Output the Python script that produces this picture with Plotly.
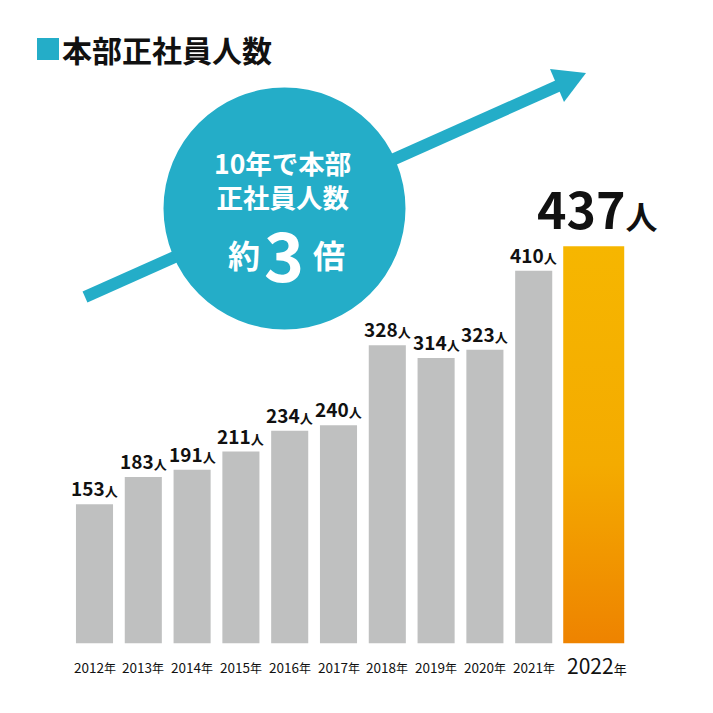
import plotly.graph_objects as go

# --- data ---
years = ["2012", "2013", "2014", "2015", "2016", "2017", "2018", "2019", "2020", "2021", "2022"]
staff = [153, 183, 191, 211, 234, 240, 328, 314, 323, 410, 437]
bar_pos = [0, 1, 2, 3, 4, 5, 6, 7, 8, 9, 10.23]
bar_width = [0.76] * 10 + [1.25]

# page has an 8px body margin, so the figure starts at (8, 8)
OFF = 8
W = H = 705
TEAL = "#24adc8"
GRAY = "#bfc0c0"
JP = "Noto Sans CJK JP"


def px(x):
    return (x - OFF) / W


def py(y):
    return 1 - (y - OFF) / H


fig = go.Figure()

# grey bars (2012-2021)
fig.add_trace(go.Bar(
    x=bar_pos[:-1], y=staff[:-1], width=bar_width[:-1],
    marker=dict(color=GRAY, line=dict(width=0)),
    hoverinfo="skip",
))

# 2022 bar with vertical gradient
x0 = bar_pos[-1] - bar_width[-1] / 2
x1 = bar_pos[-1] + bar_width[-1] / 2
fig.add_trace(go.Scatter(
    x=[x0, x1, x1, x0, x0], y=[0, 0, staff[-1], staff[-1], 0],
    mode="lines", line=dict(width=0), fill="toself",
    fillgradient=dict(type="vertical", start=0, stop=staff[-1],
                      colorscale=[[0, "#ee8300"], [0.45, "#f4ab00"], [1, "#f6b600"]]),
    hoverinfo="skip",
))

annotations = []
# value labels
for i, (p, v) in enumerate(zip(bar_pos, staff)):
    if i < len(staff) - 1:
        annotations.append(dict(
            x=p, y=v, xref="x", yref="y", yanchor="bottom", yshift=1,
            text=f"{v}<span style='font-size:13px'>人</span>",
            showarrow=False, font=dict(family=JP, size=19, color="#111", weight="bold"),
        ))
    else:
        annotations.append(dict(
            x=p, y=v, xref="x", yref="y", yanchor="bottom", yshift=1, xshift=4,
            text=f"{v}<span style='font-size:32px'>人</span>",
            showarrow=False, font=dict(family=JP, size=50, color="#111", weight="bold"),
        ))

# year labels
for i, (p, yr) in enumerate(zip(bar_pos, years)):
    if i < len(years) - 1:
        annotations.append(dict(
            x=p, y=py(667), xref="x", yref="paper", yanchor="middle",
            text=f"{yr}<span style='font-size:12px'>年</span>", showarrow=False,
            font=dict(family=JP, size=13.5, color="#111"),
        ))
    else:
        annotations.append(dict(
            x=p, y=py(665), xref="x", yref="paper", yanchor="middle", xshift=3,
            text=f"{yr}<span style='font-size:13px'>年</span>", showarrow=False,
            font=dict(family=JP, size=21, color="#111"),
        ))

# header
annotations.append(dict(
    x=px(60), y=py(49), xref="paper", yref="paper", xanchor="left", yanchor="middle",
    text="本部正社員人数", showarrow=False,
    font=dict(family=JP, size=30, color="#111", weight="bold"),
))

# circle text
annotations.append(dict(
    x=px(282), y=py(179), xref="paper", yref="paper", yanchor="middle", align="center",
    text="10年で本部<br>正社員人数",
    showarrow=False, font=dict(family=JP, size=26.5, color="white", weight="bold"),
))
for t, cx_, cy_, s in [("約", 226, 254, 32), ("3", 284, 253, 68), ("倍", 329, 254, 32)]:
    annotations.append(dict(
        x=px(cx_), y=py(cy_), xref="paper", yref="paper", yanchor="middle",
        text=t, showarrow=False, font=dict(family=JP, size=s, color="white", weight="bold"),
    ))

# arrow + circle shapes
cx, cy, r = 284.5, 208.5, 121
head = [(586, 73), (550, 69), (564, 102)]
shapes = [
    dict(type="line", xref="paper", yref="paper",
         x0=px(85), y0=py(297), x1=px(560), y1=py(85),
         line=dict(color=TEAL, width=12), layer="above"),
    dict(type="path", xref="paper", yref="paper",
         path="M {} {} L {} {} L {} {} Z".format(*[v for pt in head for v in (px(pt[0]), py(pt[1]))]),
         fillcolor=TEAL, line=dict(width=0), layer="above"),
    dict(type="circle", xref="paper", yref="paper",
         x0=px(cx - r), y0=py(cy + r), x1=px(cx + r), y1=py(cy - r),
         fillcolor=TEAL, line=dict(width=0), layer="above"),
    dict(type="rect", xref="paper", yref="paper",
         x0=px(37), y0=py(60), x1=px(59), y1=py(38),
         fillcolor=TEAL, line=dict(width=0), layer="above"),
]

# axis ranges: x=0 at 94.5px, 48.8px per unit; y=0 at 643.3px, 0.9085px per unit
xu, yu = 48.8, 0.9085
x_zero, y_zero = 94.5 - OFF, 643.3 - OFF
fig.update_xaxes(range=[-x_zero / xu, (W - x_zero) / xu], visible=False, fixedrange=True)
fig.update_yaxes(range=[-(H - y_zero) / yu, y_zero / yu], visible=False, fixedrange=True)

fig.update_layout(
    width=W, height=H,
    margin=dict(l=0, r=0, t=0, b=0),
    paper_bgcolor="white", plot_bgcolor="white",
    showlegend=False,
    annotations=annotations,
    shapes=shapes,
)

fig.write_html("out.html")
